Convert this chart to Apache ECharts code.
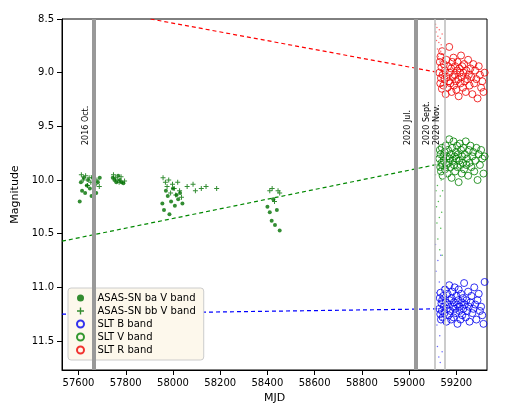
<!DOCTYPE html>
<html><head><meta charset="utf-8">
<script src="https://cdn.jsdelivr.net/npm/echarts@6/dist/echarts.min.js"></script>
<style>html,body{margin:0;background:#fff}#c{width:518px;height:414px}</style>
</head><body><div id="c"></div>
<script>
// SLT nights and magnitudes
const sltMjd = [59128,59130,59132,59133,59135,59137,59139,59140,59142,59145,59147,59150,59152,59155,59158,59160,59163,59165,59168,59170,59172,59175,59178,59180,59183,59185,59188,59190,59193,59195,59198,59200,59203,59205,59208,59210,59213,59215,59218,59220,59223,59225,59228,59230,59233,59236,59240,59243,59246,59250,59253,59256,59260,59264,59268,59272,59276,59280,59285,59290,59295,59300,59305,59310,59315,59320];
const sltB = [11.20,11.10,11.25,11.05,11.30,11.15,11.22,11.12,11.28,11.08,11.18,11.24,11.02,11.14,11.32,11.20,11.06,11.16,11.26,10.98,11.12,11.22,11.30,11.10,11.04,11.18,11.28,11.14,11.00,11.20,11.24,11.08,11.16,11.34,11.12,11.02,11.22,11.18,11.30,11.06,11.14,11.26,11.10,11.20,10.96,11.16,11.28,11.12,11.22,11.04,11.18,11.32,11.14,11.08,11.24,11.20,11.00,11.16,11.30,11.12,11.06,11.22,11.18,11.26,11.34,10.95];
const sltV = [9.80,9.72,9.88,9.76,9.92,9.84,9.70,9.86,9.96,9.78,9.82,9.74,9.90,9.68,9.86,9.78,9.94,9.72,9.84,9.62,9.80,9.88,9.76,9.98,9.70,9.82,9.64,9.86,9.78,9.92,9.74,9.80,9.68,9.88,9.76,10.02,9.82,9.66,9.86,9.72,9.94,9.78,9.84,9.70,9.90,9.76,9.64,9.86,9.80,9.96,9.72,9.84,9.68,9.88,9.78,9.74,9.92,9.82,9.70,10.00,9.76,9.86,9.72,9.80,9.94,9.78];
const sltR = [9.00,8.90,9.10,8.85,9.05,8.95,9.15,8.80,9.02,9.12,8.92,9.06,8.98,9.20,8.88,9.04,9.14,8.94,9.08,8.76,9.00,9.10,8.96,9.18,8.90,9.04,8.86,9.12,9.02,8.94,9.08,9.16,8.98,8.90,9.06,9.22,8.96,9.00,9.10,8.84,9.04,8.94,9.14,9.00,8.92,9.08,9.18,8.98,9.06,8.88,9.02,9.12,8.96,9.04,9.20,8.92,9.10,8.98,9.06,9.24,8.94,9.02,9.14,9.08,9.18,9.00];
// ASAS-SN V band, camera ba (dots) and bb (plus)
const baMjd = [57605,57610,57615,57622,57628,57635,57640,57648,57655,57660,57668,57675,57682,57690,57745,57752,57760,57768,57775,57782,57790,57955,57962,57970,57978,57985,57992,58000,58008,58015,58022,58030,58040,58400,58410,58418,58425,58432,58440,58452];
const baMag = [10.20,10.02,10.10,9.98,10.12,10.05,10.00,10.08,10.15,9.98,10.05,10.12,10.02,9.98,9.98,10.00,10.02,9.96,10.00,10.02,10.03,10.22,10.28,10.10,10.15,10.32,10.20,10.08,10.24,10.14,10.18,10.12,10.22,10.25,10.30,10.38,10.18,10.42,10.28,10.47];
const bbMjd = [57612,57620,57630,57638,57645,57652,57662,57670,57678,57688,57748,57756,57764,57772,57780,57795,57958,57968,57975,57982,57990,57998,58005,58012,58020,58028,58036,58060,58085,58095,58120,58140,58185,58410,58420,58430,58445,58452];
const bbMag = [9.95,10.00,9.96,10.05,9.98,10.02,9.96,10.04,10.00,10.06,9.95,9.98,10.00,10.02,9.97,10.01,9.98,10.02,10.06,10.00,10.12,10.04,10.08,10.14,10.02,10.10,10.16,10.06,10.04,10.10,10.08,10.06,10.08,10.10,10.08,10.20,10.10,10.12];
// dense small-dot photometry inside the Sept.–Nov. window
const dotMjd = [59112,59114,59116,59118,59120,59122,59124,59126,59128,59130,59132,59134,59136,59138,59140,59142];
const dotR = [8.55,8.62,8.70,8.58,8.78,8.66,8.85,8.72,8.60,8.90,8.68,8.80,8.74,8.95,8.64,8.86];
const dotV = [9.95,10.10,10.25,10.40,10.05,10.55,10.20,9.90,10.35,10.65,10.15,10.45,10.00,10.30,10.70,10.10];
const dotB = [10.60,10.85,11.05,11.35,11.55,10.75,11.20,11.65,10.95,11.45,11.70,10.70,11.10,11.30,11.60,11.00];
// fitted trend lines [mjd, mag]
const trendR = [[57905,8.5],[59130,9.0]];
const trendV = [[57530,10.57],[59130,9.85]];
const trendB = [[57530,11.25],[59130,11.2]];
const epochs = [[57665,'2016 Oct.'],[59030,'2020 Jul.'],[59108,'2020 Sept.'],[59150,'2020 Nov.']];
const xTicks = [57600,57800,58000,58200,58400,58600,58800,59000,59200];

const zip = (a, b) => a.map((x, i) => [x, b[i]]);
const plus = 'path://M4,0h2v4h4v2h-4v4h-2v-4h-4v-2h4z';
const font = 'DejaVu Sans';
const yMin = 8.5, yMax = 11.77;
const trend = (data, color) => ({type: 'line', data, symbol: 'none', silent: true, z: 3,
  emphasis: {disabled: true}, color, itemStyle: {color}, lineStyle: {color, type: [4, 3], width: 1.2, opacity: 1}});

const chart = echarts.init(document.getElementById('c'));
chart.setOption({
  animation: false,
  textStyle: {fontFamily: font},
  grid: {left: 62, right: 31, top: 19, bottom: 44, show: true, borderColor: '#000', borderWidth: 1},
  xAxis: {
    type: 'value', min: 57530, max: 59330,
    name: 'MJD', nameLocation: 'middle', nameGap: 22,
    nameTextStyle: {color: '#000', fontSize: 11},
    axisLine: {lineStyle: {color: '#000'}},
    axisTick: {customValues: xTicks, lineStyle: {color: '#000'}},
    axisLabel: {customValues: xTicks, color: '#000', fontSize: 10, formatter: v => String(v)},
    splitLine: {show: false}
  },
  yAxis: {
    type: 'value', inverse: true, min: yMin, max: yMax, interval: 0.5,
    name: 'Magnitude', nameLocation: 'middle', nameGap: 36,
    nameTextStyle: {color: '#000', fontSize: 11},
    axisLine: {show: true, lineStyle: {color: '#000'}},
    axisTick: {show: true, lineStyle: {color: '#000'}},
    axisLabel: {color: '#000', fontSize: 10, showMaxLabel: false, formatter: v => v.toFixed(1)},
    splitLine: {show: false}
  },
  legend: {
    left: 68, top: 288, orient: 'vertical', itemGap: 3, itemWidth: 24, itemHeight: 7,
    backgroundColor: '#fdf8ec', borderColor: '#ccc', borderWidth: 1, borderRadius: 3,
    padding: [5, 8], textStyle: {fontSize: 10, color: '#000'},
    data: ['ASAS-SN ba V band', 'ASAS-SN bb V band', 'SLT B band', 'SLT V band', 'SLT R band']
  },
  series: [
    {type: 'scatter', data: [], silent: true,
      markLine: {symbol: 'none', silent: true,
        data: epochs.map(([x, t], i) => [
          {xAxis: x, yAxis: yMax,
            lineStyle: {color: i < 2 ? '#999' : '#bbb', width: i < 2 ? 4 : 1.5, type: 'solid'},
            label: {show: true, formatter: t, position: 'insideStartTop', fontSize: 8, color: '#000', distance: [225, 4]}},
          {xAxis: x, yAxis: yMin}])}},
    trend(trendR, '#ff0000'),
    trend(trendV, '#008800'),
    trend(trendB, '#0000ff'),
    {type: 'scatter', data: zip(dotMjd, dotR), symbolSize: 1.5, itemStyle: {color: '#f44'}},
    {type: 'scatter', data: zip(dotMjd, dotV), symbolSize: 1.5, itemStyle: {color: '#2a2'}},
    {type: 'scatter', data: zip(dotMjd, dotB), symbolSize: 1.5, itemStyle: {color: '#44f'}},
    {name: 'ASAS-SN ba V band', type: 'scatter', data: zip(baMjd, baMag), symbolSize: 4, itemStyle: {color: '#007000'}},
    {name: 'ASAS-SN bb V band', type: 'scatter', data: zip(bbMjd, bbMag), symbol: plus, symbolSize: 5, itemStyle: {color: '#007000'}},
    {name: 'SLT B band', type: 'scatter', data: zip(sltMjd, sltB), symbolSize: 7,
      itemStyle: {color: 'rgba(0,0,0,0)', borderColor: '#0000ee', borderWidth: 1}},
    {name: 'SLT V band', type: 'scatter', data: zip(sltMjd, sltV), symbolSize: 7,
      itemStyle: {color: 'rgba(0,0,0,0)', borderColor: '#008000', borderWidth: 1}},
    {name: 'SLT R band', type: 'scatter', data: zip(sltMjd, sltR), symbolSize: 7,
      itemStyle: {color: 'rgba(0,0,0,0)', borderColor: '#ee0000', borderWidth: 1}}
  ]
});
</script></body></html>
